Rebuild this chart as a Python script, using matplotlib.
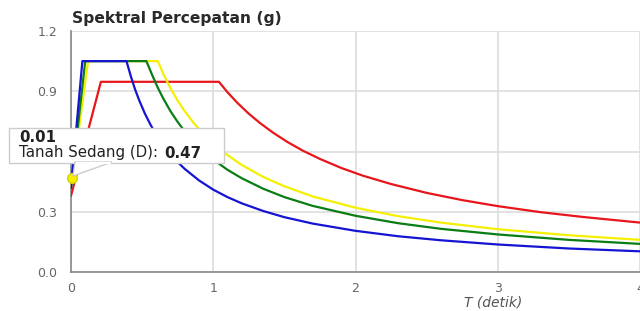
import matplotlib

matplotlib.use("Agg")
import matplotlib.pyplot as plt
from matplotlib.patches import FancyBboxPatch, Polygon

plt.rcParams["font.family"] = ["DejaVu Sans"]

# periods (detik) and spectral acceleration (g)
blue_t = [0, 0.08, 0.39, 0.42, 0.45, 0.48, 0.52, 0.56, 0.6, 0.65, 0.7, 0.75, 0.8, 0.9, 1.0,
          1.1, 1.2, 1.35, 1.5, 1.7, 2.0, 2.3, 2.6, 3.0, 3.5, 4.0]
blue_sa = [0.42, 1.05, 1.05, 0.976, 0.91, 0.854, 0.788, 0.732, 0.683, 0.631, 0.586, 0.547, 0.513, 0.456, 0.41,
           0.373, 0.342, 0.304, 0.273, 0.241, 0.205, 0.178, 0.158, 0.137, 0.117, 0.103]

green_t = [0, 0.10, 0.53, 0.57, 0.61, 0.65, 0.7, 0.75, 0.8, 0.87, 0.94, 1.0, 1.1, 1.2, 1.35,
           1.5, 1.7, 2.0, 2.3, 2.6, 3.0, 3.5, 4.0]
green_sa = [0.42, 1.05, 1.05, 0.982, 0.918, 0.862, 0.80, 0.747, 0.70, 0.644, 0.596, 0.56, 0.509, 0.467, 0.415,
            0.373, 0.329, 0.28, 0.243, 0.215, 0.187, 0.16, 0.14]

yellow_t = [0, 0.12, 0.61, 0.65, 0.7, 0.75, 0.8, 0.86, 0.93, 1.0, 1.1, 1.2, 1.35, 1.5, 1.7,
            2.0, 2.3, 2.6, 3.0, 3.5, 4.0]
yellow_sa = [0.42, 1.05, 1.05, 0.985, 0.914, 0.853, 0.80, 0.744, 0.688, 0.64, 0.582, 0.533, 0.474, 0.427, 0.376,
             0.32, 0.278, 0.246, 0.213, 0.183, 0.16]

red_t = [0, 0.21, 1.04, 1.1, 1.17, 1.25, 1.33, 1.42, 1.52, 1.63, 1.75, 1.9, 2.05, 2.25, 2.5,
         2.75, 3.0, 3.3, 3.6, 4.0]
red_sa = [0.38, 0.947, 0.947, 0.895, 0.842, 0.788, 0.741, 0.694, 0.648, 0.604, 0.563, 0.518, 0.48, 0.438, 0.394,
          0.358, 0.328, 0.298, 0.274, 0.246]

x_ticks = [0, 1, 2, 3, 4]
y_ticks = [0.0, 0.3, 0.6, 0.9, 1.2]
# 0.6 sits under the tooltip in the screenshot
y_ticklabels = ["0.0", "0.3", "", "0.9", "1.2"]

tooltip_t = 0.01
tooltip_label = "Tanah Sedang (D):"
tooltip_val = 0.47

W, H = 640, 311
fig = plt.figure(figsize=(6.4, 3.11), dpi=100)
ax = fig.add_axes([71 / W, 1 - 272 / H, (640 - 71) / W, (272 - 31) / H])

ax.plot(red_t, red_sa, color="#e8161b", lw=1.6, zorder=3)
ax.plot(yellow_t, yellow_sa, color="#f4f000", lw=1.6, zorder=4)
ax.plot(green_t, green_sa, color="#0a7d14", lw=1.6, zorder=5)
ax.plot(blue_t, blue_sa, color="#1414d2", lw=1.6, zorder=6)

ax.set_xlim(0, 4)
ax.set_ylim(0, 1.2)
ax.set_xticks(x_ticks)
ax.set_yticks(y_ticks)
ax.set_xticklabels([str(v) for v in x_ticks])
ax.set_yticklabels(y_ticklabels)
ax.tick_params(length=0, labelsize=9, colors="#666666", pad=10)
ax.tick_params(axis="x", pad=7)
ax.grid(True, color="#dddddd", lw=1.2)
ax.set_axisbelow(True)
for side in ("top", "right"):
    ax.spines[side].set_visible(False)
for side in ("left", "bottom"):
    ax.spines[side].set_color("#888888")
    ax.spines[side].set_linewidth(1.2)

fig.text(72 / W, 1 - 19 / H, "Spektral Percepatan (g)", fontsize=11.2,
         fontweight="bold", color="#2a2a2a", ha="left", va="center")
fig.text(493 / W, 1 - 302 / H, "T (detik)", fontsize=10, style="italic",
         color="#555555", ha="center", va="center")

# tooltip
box = FancyBboxPatch((9 / W, 1 - 163 / H), 215 / W, 35 / H,
                     boxstyle="square,pad=0", transform=fig.transFigure,
                     facecolor="white", edgecolor="#cccccc", lw=1, zorder=10)
fig.patches.append(box)
ptr = Polygon([(75 / W, 1 - 162 / H), (112 / W, 1 - 162 / H), (73 / W, 1 - 176 / H)],
              closed=True, transform=fig.transFigure, facecolor="white",
              edgecolor="#cccccc", lw=1, zorder=10)
fig.patches.append(ptr)
fig.patches.append(Polygon([(76 / W, 1 - 162.5 / H), (111 / W, 1 - 162.5 / H), (90 / W, 1 - 162.5 / H)],
                           closed=True, transform=fig.transFigure, facecolor="white",
                           edgecolor="white", lw=1.5, zorder=11))
fig.text(19 / W, 1 - 137 / H, f"{tooltip_t:.2f}", fontsize=10.8, fontweight="bold",
         color="#222222", ha="left", va="center", zorder=12)
t1 = fig.text(19 / W, 1 - 153 / H, tooltip_label, fontsize=10.8, color="#222222",
              ha="left", va="center", zorder=12)
fig.canvas.draw()
bb = t1.get_window_extent()
fig.text((bb.x1 + 6) / W, 1 - 153 / H, f"{tooltip_val:.2f}", fontsize=10.8, fontweight="bold",
         color="#222222", ha="left", va="center", zorder=12)

ax.plot([tooltip_t], [tooltip_val], "o", color="#f4f000", mec="#d8d000",
        ms=7, zorder=8, clip_on=False)

fig.savefig("out.png", dpi=100)
